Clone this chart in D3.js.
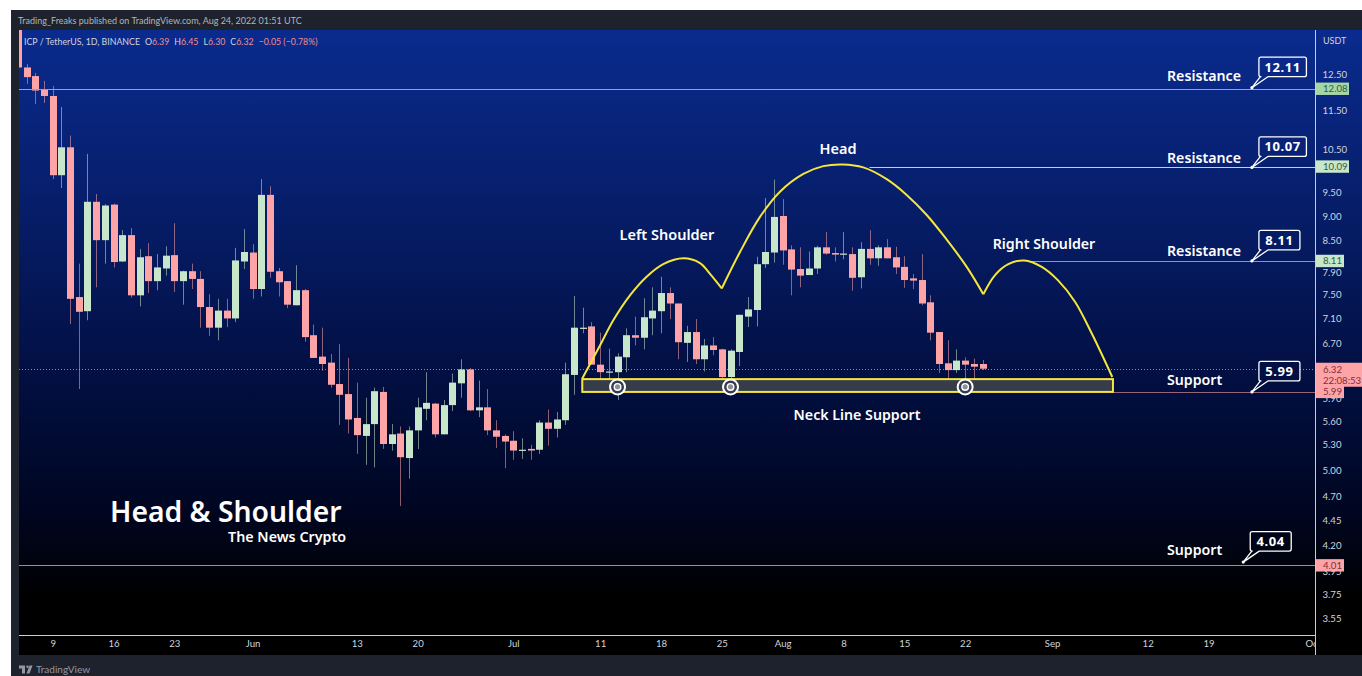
<!DOCTYPE html>
<html>
<head>
<meta charset="utf-8">
<script src="https://d3js.org/d3.v7.min.js"></script>
<style>
  html, body { margin: 0; padding: 0; background: #fff; overflow: hidden; }
  text { font-family: "Noto Sans", "Open Sans", sans-serif; }
  .small { font-family: Lato, "Noto Sans", sans-serif; }
</style>
</head>
<body>
<div id="my_dataviz"></div>
<script>
//Daily candles, first one is May 5 2022
var firstDay = Date.UTC(2022, 4, 5);
var opens = [14.00,12.69,12.44,12.07,11.88,9.89,10.55,7.46,7.22,9.30,8.51,9.24,8.10,8.61,7.49,8.20,7.74,7.97,8.22,7.74,7.92,7.78,7.29,6.95,7.23,7.10,8.10,8.27,7.60,9.45,7.92,7.74,7.32,7.58,6.83,6.50,6.41,6.10,5.96,5.64,5.41,5.56,5.99,5.31,5.44,5.14,5.48,5.76,5.83,5.43,5.81,6.11,6.31,5.74,5.78,5.48,5.41,5.35,5.23,5.25,5.24,5.58,5.50,5.61,6.23,6.93,6.97,6.38,6.27,6.27,6.49,6.83,6.79,7.10,7.22,7.53,7.35,6.71,6.88,6.46,6.67,6.61,6.20,6.57,7.13,7.24,8.05,8.27,9.00,8.33,7.96,7.85,7.97,8.37,8.26,8.23,8.24,7.81,8.34,8.16,8.37,8.18,8.00,7.79,7.76,7.37,6.88,6.40,6.30,6.44,6.39,6.39];
var highs = [14.30,12.79,12.53,12.30,12.16,11.58,10.84,8.06,10.39,9.47,9.25,9.26,8.71,8.75,8.34,8.45,8.24,8.39,8.85,7.93,8.06,7.92,7.51,7.43,7.43,8.36,8.73,8.43,9.80,9.64,7.98,7.74,8.03,7.60,7.00,6.95,6.54,6.69,6.48,6.12,5.91,6.05,6.06,5.56,5.53,5.53,5.91,6.27,5.84,5.88,6.25,6.46,6.33,6.15,6.03,5.61,5.43,5.47,5.38,5.30,5.61,5.75,5.72,6.41,7.48,7.28,7.04,6.87,6.62,6.55,6.94,7.13,7.44,7.63,7.82,7.63,7.35,6.98,7.09,6.77,6.80,6.62,6.61,7.16,7.46,8.19,9.38,9.79,9.36,8.41,8.37,8.29,8.40,8.67,8.37,8.67,8.37,8.47,8.71,8.41,8.53,8.38,8.20,7.87,8.24,7.49,6.88,6.75,6.61,6.49,6.47,6.45];
var lows = [12.60,12.22,11.66,11.69,9.80,9.60,7.01,6.03,7.07,7.63,8.06,7.99,8.09,7.45,7.30,7.53,7.58,7.84,7.55,7.33,7.60,6.95,6.82,6.75,6.96,7.04,7.96,7.43,7.47,7.80,7.47,7.27,7.32,6.73,6.48,6.29,6.05,5.55,5.44,5.19,5.06,5.03,5.25,5.23,4.60,4.90,5.25,5.61,5.39,5.43,5.73,5.91,5.73,5.65,5.42,5.26,5.02,5.12,5.13,5.12,5.19,5.29,5.39,5.55,5.95,6.86,6.38,6.10,6.16,5.88,6.27,6.67,6.61,6.83,6.86,7.09,6.46,6.42,6.39,6.28,6.52,6.13,5.99,6.36,6.96,6.97,7.98,8.08,8.04,7.49,7.63,7.85,7.87,8.23,8.10,8.14,7.57,7.61,8.04,8.02,8.16,7.87,7.62,7.60,7.32,6.75,6.26,6.09,6.26,6.09,6.16,6.30];
var closes = [12.69,12.41,12.03,11.88,9.89,10.55,7.43,7.21,9.30,8.51,9.22,8.09,8.61,7.49,8.18,7.74,7.99,8.21,7.74,7.92,7.78,7.29,6.95,7.23,7.10,8.12,8.28,7.60,9.45,7.91,7.72,7.33,7.58,6.80,6.48,6.39,6.09,5.95,5.62,5.42,5.56,6.00,5.31,5.43,5.15,5.48,5.78,5.84,5.43,5.81,6.12,6.31,5.74,5.78,5.48,5.40,5.34,5.23,5.24,5.23,5.58,5.50,5.62,6.24,6.95,6.95,6.38,6.27,6.28,6.50,6.83,6.79,7.12,7.23,7.53,7.35,6.72,6.88,6.46,6.67,6.60,6.20,6.59,7.16,7.25,8.05,8.28,8.98,8.31,7.95,7.84,7.97,8.37,8.25,8.23,8.25,7.80,8.34,8.16,8.37,8.16,7.99,7.76,7.75,7.35,6.87,6.39,6.30,6.44,6.38,6.35,6.32];

//Axis labels, 5.90 and 3.95 stay half hidden under the price tags
var priceTicks = [12.5,11.5,10.5,9.5,9,8.5,7.9,7.5,7.1,6.7,5.9,5.6,5.3,5,4.7,4.45,4.2,3.95,3.75,3.55];
var timeTickDays = [4,11,18,27,39,46,57,67,74,81,88,95,102,109,119,130,137,149];
var timeTickLabels = ["9","16","23","Jun","13","20","Jul","11","18","25","Aug","8","15","22","Sep","12","19","Oct"];

//Price tags on the right axis
var tagPrices = [12.08,10.09,8.11,5.99,4.01];
var tagFills = ["#a5d6a7","#c8e6c9","#c8e6c9","#ffa4a6","#ffa4a6"];
var tagText = ["#2c5e3f","#2c5e3f","#2c5e3f","#7a3040","#7a3040"];

//Level lines: start day and colour, 4.01 and 12.08 run the whole pane
var levelPrices = [12.08,10.09,8.11,5.99,4.01];
var levelStartDays = [-1,98,116.5,126,-1];
var levelColors = ["#86adbd","#bcd3e2","#7f9db6","#96667c","#d4767a"];

//Callouts
var calloutValues = [12.11,10.07,8.11,5.99,4.04];
var calloutDays = [142,142,142,142,141];
var calloutLabels = ["Resistance","Resistance","Resistance","Support","Support"];
var calloutLabelPrices = [12.47,10.31,8.30,6.17,4.155];

//Head and shoulders outline
var leftDays = [64.94,66.98,68.51,70.43,72.35,74.26,76.57,78.49,79.64,80.99];
var leftPrices = [6.18,6.67,7.07,7.49,7.82,8.05,8.16,8.07,7.87,7.61];
var headDays = [80.99,83.09,85.39,87.69,90.38,92.68,94.91,97.28,99.97,102.27,104.58,106.88,109.18,111.09];
var headPrices = [7.61,8.28,8.98,9.52,9.92,10.10,10.14,10.07,9.80,9.45,9.02,8.52,8.00,7.51];
var rightDays = [111.09,112.44,113.97,115.81,117.81,119.72,121.64,123.56,125.93];
var rightPrices = [7.51,7.85,8.05,8.12,8.00,7.75,7.38,6.86,6.20];

//Neck line box and the touch markers
var neckDays = [64.94,126.01];
var neckPrices = [6.17,5.99];
var touchDays = [69,82,109];
var touchPrice = 6.06;

var W = 1362, H = 676;
var pane = {left: 19, right: 1315.5, top: 30, bottom: 635};

function day(i) { return new Date(firstDay + i * 86400000); }

var x = d3.scaleUtc().domain([day(4), day(149)]).range([52.7, 1312.75]);
var y = d3.scaleLog().domain([3.55, 12.5]).range([618, 74]);

var svg = d3.select("#my_dataviz").append("svg")
    .attr("width", W)
    .attr("height", H)
    .style("display", "block");

var defs = svg.append("defs");

var grad = defs.append("linearGradient")
    .attr("id", "bg")
    .attr("gradientUnits", "userSpaceOnUse")
    .attr("x1", 0).attr("x2", 0)
    .attr("y1", pane.top).attr("y2", pane.bottom);
grad.append("stop").attr("offset", "0%").attr("stop-color", "#0a2b8e");
grad.append("stop").attr("offset", "30%").attr("stop-color", "#061d68");
grad.append("stop").attr("offset", "57%").attr("stop-color", "#020f42");
grad.append("stop").attr("offset", "80%").attr("stop-color", "#000620");
grad.append("stop").attr("offset", "94%").attr("stop-color", "#000000");

defs.append("clipPath").attr("id", "paneClip").append("rect")
    .attr("x", pane.left).attr("y", pane.top)
    .attr("width", pane.right - pane.left).attr("height", pane.bottom - pane.top);

//Frame and backgrounds
svg.append("rect").attr("x", 11).attr("y", 10).attr("width", W - 11).attr("height", H - 10).attr("fill", "#1e222d");
svg.append("rect").attr("x", pane.left).attr("y", pane.top).attr("width", W - pane.left).attr("height", pane.bottom - pane.top).attr("fill", "url(#bg)");
svg.append("rect").attr("x", pane.left).attr("y", pane.bottom).attr("width", W - pane.left).attr("height", 20).attr("fill", "#000");

var inner = svg.append("g").attr("clip-path", "url(#paneClip)");

//Current price dotted line
var lastY = Math.round(y(closes[closes.length - 1])) + 0.5;
inner.append("line")
    .attr("x1", pane.left).attr("x2", pane.right)
    .attr("y1", lastY)
    .attr("y2", lastY)
    .attr("stroke", "#b87c90").attr("stroke-width", 1).attr("stroke-dasharray", "1 2");

//Candles
var candles = inner.append("g").selectAll("g")
    .data(opens)
    .enter().append("g");

function candleColor(i) { return closes[i] >= opens[i] ? "#c8e6c9" : "#ffa4a6"; }

candles.append("line")
    .attr("x1", function(d, i) { return Math.round(x(day(i))) + 0.5; })
    .attr("x2", function(d, i) { return Math.round(x(day(i))) + 0.5; })
    .attr("y1", function(d, i) { return y(highs[i]); })
    .attr("y2", function(d, i) { return y(lows[i]); })
    .attr("stroke", function(d, i) { return candleColor(i); })
    .attr("stroke-opacity", 0.55);

candles.append("rect")
    .attr("x", function(d, i) { return Math.round(x(day(i))) - 3; })
    .attr("width", 7)
    .attr("y", function(d, i) { return y(Math.max(opens[i], closes[i])); })
    .attr("height", function(d, i) { return Math.max(1.2, Math.abs(y(opens[i]) - y(closes[i]))); })
    .attr("fill", function(d, i) { return candleColor(i); });

//Level lines
inner.append("g").selectAll("line")
    .data(levelPrices)
    .enter().append("line")
    .attr("x1", function(d, i) { return x(day(levelStartDays[i])); })
    .attr("x2", pane.right)
    .attr("y1", function(d) { return Math.round(y(d)) + 0.5; })
    .attr("y2", function(d) { return Math.round(y(d)) + 0.5; })
    .attr("stroke", function(d, i) { return levelColors[i]; });

//Neck line box
inner.append("rect")
    .attr("x", x(day(neckDays[0])))
    .attr("y", y(neckPrices[0]))
    .attr("width", x(day(neckDays[1])) - x(day(neckDays[0])))
    .attr("height", y(neckPrices[1]) - y(neckPrices[0]))
    .attr("fill", "#363c4a")
    .attr("stroke", "#f5e63c")
    .attr("stroke-width", 2);

//Head and shoulders curves
var curve = d3.line()
    .x(function(d) { return x(day(d[0])); })
    .y(function(d) { return y(d[1]); })
    .curve(d3.curveCatmullRom.alpha(0.5));

[[leftDays, leftPrices], [headDays, headPrices], [rightDays, rightPrices]].forEach(function(p) {
  inner.append("path")
      .attr("d", curve(d3.zip(p[0], p[1])))
      .attr("fill", "none")
      .attr("stroke", "#f5e63c")
      .attr("stroke-width", 2)
      .attr("stroke-linejoin", "round");
});

//Touch markers
var touches = inner.append("g").selectAll("g")
    .data(touchDays)
    .enter().append("g")
    .attr("transform", function(d) { return "translate(" + x(day(d)) + "," + y(touchPrice) + ")"; });
touches.append("circle").attr("r", 7.5).attr("fill", "#363c4a").attr("stroke", "#fff").attr("stroke-width", 2);
touches.append("circle").attr("r", 3.3).attr("fill", "#8a8f9a").attr("stroke", "#fff").attr("stroke-width", 1.4);

//Pane text
function addText(px, py, str, size, weight, anchor) {
  return svg.append("text")
      .attr("x", px).attr("y", py)
      .attr("font-size", size)
      .attr("font-weight", weight)
      .attr("text-anchor", anchor || "start")
      .attr("dominant-baseline", "central")
      .attr("fill", "#fff")
      .text(str);
}

addText(667, 234, "Left Shoulder", 14.5, 600, "middle");
addText(838, 147.5, "Head", 14.5, 600, "middle");
addText(1044, 243, "Right Shoulder", 14.2, 600, "middle");
addText(857, 414, "Neck Line Support", 14.2, 600, "middle");
addText(110, 511, "Head & Shoulder", 28.3, 600);
addText(228, 536, "The News Crypto", 14.3, 600);

//Callouts
function calloutWidth(d) { return d >= 10 ? 47.5 : 41; }

var callout = svg.append("g").selectAll("g")
    .data(calloutValues)
    .enter().append("g");

function calloutPath(d, i) {
  var ax = x(day(calloutDays[i])), ay = y(d), w = calloutWidth(d);
  var l = ax + 7, r = l + w, t = ay - 30.5, b = ay - 11;
  return "M" + ax + "," + ay + "L" + (l + 1.5) + "," + b + "H" + (l + 2) + "Q" + l + "," + b + " " + l + "," + (b - 2)
      + "V" + (t + 2) + "Q" + l + "," + t + " " + (l + 2) + "," + t + "H" + (r - 2) + "Q" + r + "," + t + " " + r + "," + (t + 2)
      + "V" + (b - 2) + "Q" + r + "," + b + " " + (r - 2) + "," + b + "H" + (l + 9) + "Z";
}

callout.append("path")
    .attr("d", calloutPath)
    .attr("fill", "url(#bg)")
    .attr("stroke", "#fff")
    .attr("stroke-width", 1.3)
    .attr("stroke-linejoin", "round");

callout.append("circle")
    .attr("cx", function(d, i) { return x(day(calloutDays[i])); })
    .attr("cy", function(d) { return y(d); })
    .attr("r", 1.6)
    .attr("fill", "#fff");

callout.append("text")
    .attr("x", function(d, i) { return x(day(calloutDays[i])) + 7 + calloutWidth(d) / 2; })
    .attr("y", function(d) { return y(d) - 21; })
    .attr("text-anchor", "middle")
    .attr("dominant-baseline", "central")
    .attr("font-size", 13)
    .attr("font-weight", 700)
    .attr("letter-spacing", 0.6)
    .attr("fill", "#fff")
    .text(function(d) { return d3.format(".2f")(d); });

calloutLabels.forEach(function(d, i) {
  addText(1167, y(calloutLabelPrices[i]), d, 14.2, 600);
});

//Price axis
var yAxis = d3.axisRight(y)
    .tickValues(priceTicks)
    .tickSize(0)
    .tickPadding(7)
    .tickFormat(d3.format(".2f"));

var yG = svg.append("g")
    .attr("transform", "translate(" + pane.right + ",0)")
    .call(yAxis);
yG.select(".domain").remove();
yG.selectAll("text")
    .attr("class", "small")
    .attr("font-size", 9.6)
    .attr("fill", "#d1d4dc");

//Time axis, the last label is cut by the price axis
defs.append("clipPath").attr("id", "timeClip").append("rect")
    .attr("x", pane.left).attr("y", pane.bottom)
    .attr("width", pane.right - pane.left).attr("height", 20);

var xAxis = d3.axisBottom(x)
    .tickValues(timeTickDays.map(day))
    .tickSize(0)
    .tickPadding(5)
    .tickFormat(function(d, i) { return timeTickLabels[i]; });

var xG = svg.append("g")
    .attr("clip-path", "url(#timeClip)")
    .append("g")
    .attr("transform", "translate(0," + pane.bottom + ")")
    .call(xAxis);
xG.select(".domain").remove();
xG.selectAll("text")
    .attr("class", "small")
    .attr("font-size", 9.6)
    .attr("fill", "#d1d4dc");

//Pane borders
svg.append("line").attr("x1", pane.right).attr("x2", pane.right).attr("y1", pane.top).attr("y2", pane.bottom + 20).attr("stroke", "#c8ccd6");
svg.append("line").attr("x1", pane.left).attr("x2", pane.right).attr("y1", pane.bottom + 0.5).attr("y2", pane.bottom + 0.5).attr("stroke", "#c8ccd6");

//Live price box, the 5.99 tag goes over it
svg.append("rect")
    .attr("x", pane.right + 0.5)
    .attr("y", y(closes[closes.length - 1]) - 6)
    .attr("width", W - pane.right)
    .attr("height", 24)
    .attr("fill", "#ffa4a6");
addText(pane.right + 7.5, y(closes[closes.length - 1]) + 0.5, d3.format(".2f")(closes[closes.length - 1]), 9.6, 400).attr("class", "small").attr("fill", "#7a3040");
addText(pane.right + 7.5, y(closes[closes.length - 1]) + 11.5, "22:08:53", 9.6, 400).attr("class", "small").attr("fill", "#7a3040");

//Price tags
var tags = svg.append("g").selectAll("g")
    .data(tagPrices)
    .enter().append("g")
    .attr("transform", function(d) { return "translate(" + (pane.right + 0.5) + "," + y(d) + ")"; });

tags.append("rect")
    .attr("y", -6.2)
    .attr("width", function(d) { return d >= 10 ? 33 : 28; })
    .attr("height", 12.4)
    .attr("fill", function(d, i) { return tagFills[i]; });
tags.append("text")
    .attr("class", "small")
    .attr("x", 7)
    .attr("dominant-baseline", "central")
    .attr("font-size", 9.6)
    .attr("fill", function(d, i) { return tagText[i]; })
    .text(function(d) { return d3.format(".2f")(d); });

//Titles and header
addText(1323, 40, "USDT", 9, 400).attr("class", "small").attr("fill", "#d1d4dc");
addText(18, 20, "Trading_Freaks published on TradingView.com, Aug 24, 2022 01:51 UTC", 9, 400).attr("class", "small").attr("fill", "#b2b5be");

var legendParts = ["ICP / TetherUS, 1D, BINANCE", "O", "6.39", "H", "6.45", "L", "6.30", "C", "6.32", "\u22120.05 (\u22120.78%)"];
var legendColors = ["#d1d4dc", "#d1d4dc", "#f28b8b", "#d1d4dc", "#f28b8b", "#d1d4dc", "#f28b8b", "#d1d4dc", "#f28b8b", "#f28b8b"];
var legendGaps = [0, 5, 0, 5, 0, 5, 0, 5, 0, 5];
var legend = addText(24, 41, "", 8.8, 400).attr("class", "small");
legend.selectAll("tspan")
    .data(legendParts)
    .enter().append("tspan")
    .attr("dx", function(d, i) { return legendGaps[i]; })
    .attr("fill", function(d, i) { return legendColors[i]; })
    .text(function(d) { return d; });

//TradingView logo
svg.append("path")
    .attr("d", "M19,665.5h6v8h-3v-5h-3z M26.5,673.5l3,-8h3l-3,8z")
    .attr("fill", "#9598a1");
svg.append("circle").attr("cx", 27.5).attr("cy", 666.7).attr("r", 1.2).attr("fill", "#9598a1");
addText(36, 669, "TradingView", 10, 400).attr("class", "small").attr("fill", "#9598a1");
</script>
</body>
</html>
